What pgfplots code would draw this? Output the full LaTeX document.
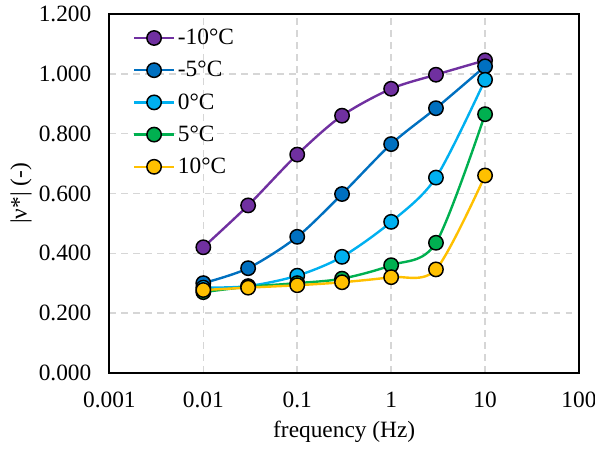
\documentclass[border=0pt]{standalone}
\usepackage{pgfplots}
\pgfplotsset{compat=1.18}
\usepackage{fontspec}
\setmainfont{Liberation Serif}
\definecolor{cP}{HTML}{7030A0}
\definecolor{cB}{HTML}{0070C0}
\definecolor{cL}{HTML}{00B0F0}
\definecolor{cG}{HTML}{00B050}
\definecolor{cY}{HTML}{FFC000}
\tikzset{mk/.style={mark options={draw=black, fill=#1, line width=1.1pt, solid}}}
\begin{document}
\begin{tikzpicture}
\begin{axis}[
  name=ax,
  scale only axis,
  width=352pt, height=269pt,
  xmode=log, xmin=0.001, xmax=100,
  ymin=0, ymax=1.2,
  xtick={0.001,0.01,0.1,1,10,100},
  xticklabels={0.001,0.01,0.1,1,10,100},
  ytick={0,0.2,0.4,0.6,0.8,1.0,1.2},
  yticklabel style={xshift=-10pt, /pgf/number format/fixed, /pgf/number format/fixed zerofill, /pgf/number format/precision=3, /pgf/number format/assume math mode=true},
  xminorticks=false,
  major tick length=0pt,
  grid=major,
  major grid style={black!16, line width=1.1pt, dash pattern=on 5pt off 4pt},
  axis line style={black, line width=1.5pt},
  font=\fontsize{17.5}{20}\selectfont,
  tick label style={font=\fontsize{17.5}{20}\selectfont},
  xticklabel style={yshift=-11pt},
  xlabel={frequency (Hz)},
  ylabel={|ν*| (-)},
  ylabel style={at={(axis description cs:-0.188,0.5)}, anchor=center},
  xlabel style={at={(axis description cs:0.5,-0.165)}, anchor=center},
  legend style={draw=none, fill=none, at={(0.05,0.965)}, anchor=north west, row sep=7pt, font=\fontsize{17.5}{20}\selectfont, inner sep=0pt, outer sep=0pt},
  legend cell align=left,
  legend image code/.code={\draw[mark repeat=2,mark phase=2] plot coordinates {(0pt,0pt)(15pt,0pt)(30pt,0pt)};},
  every axis plot/.append style={smooth, line width=1.8pt, mark=*, mark size=5.4pt},
]
\addplot[cP, mk=cP] coordinates {(0.01,0.42)(0.03,0.56)(0.1,0.73)(0.3,0.86)(1,0.95)(3,0.997)(10,1.045)};
\addlegendentry{-10°C}
\addplot[cB, mk=cB] coordinates {(0.01,0.30)(0.03,0.35)(0.1,0.455)(0.3,0.598)(1,0.765)(3,0.885)(10,1.025)};
\addlegendentry{-5°C}
\addplot[cL, mk=cL] coordinates {(0.01,0.285)(0.03,0.29)(0.1,0.325)(0.3,0.388)(1,0.505)(3,0.653)(10,0.98)};
\addlegendentry{0°C}
\addplot[cG, mk=cG] coordinates {(0.01,0.27)(0.03,0.288)(0.1,0.30)(0.3,0.315)(1,0.36)(3,0.435)(10,0.865)};
\addlegendentry{5°C}
\addplot[cY, mk=cY] coordinates {(0.01,0.277)(0.03,0.285)(0.1,0.293)(0.3,0.303)(1,0.32)(3,0.346)(10,0.66)};
\addlegendentry{10°C}
\end{axis}
\pgfresetboundingbox
\path ([shift={(-82pt,-59pt)}]ax.south west) rectangle ([shift={(12pt,10.5pt)}]ax.north east);
\end{tikzpicture}
\end{document}
